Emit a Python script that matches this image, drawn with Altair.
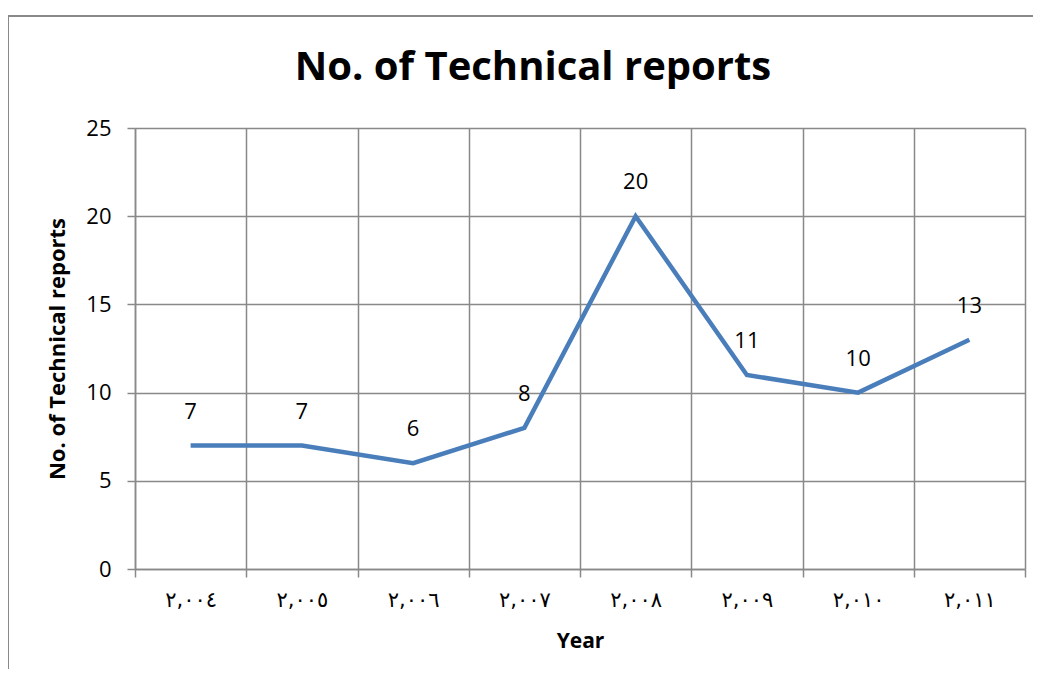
import altair as alt
import pandas as pd

years = ["٢,٠٠٤", "٢,٠٠٥", "٢,٠٠٦", "٢,٠٠٧", "٢,٠٠٨", "٢,٠٠٩", "٢,٠١٠", "٢,٠١١"]
reports = [7, 7, 6, 8, 20, 11, 10, 13]
title_text = "No. of Technical reports"

df = pd.DataFrame({"year": years, "reports": reports})

FONT = "Open Sans"
GRID = "#898989"

yscale = alt.Scale(domain=[0, 25], nice=False, zero=True)
xscale = alt.Scale(type="band", paddingInner=0, paddingOuter=0)

x = alt.X("year:N", sort=years, scale=xscale, bandPosition=0.5,
          axis=alt.Axis(title="Year", tickBand="extent", grid=True, gridColor=GRID, gridWidth=1.5,
                        domainColor=GRID, domainWidth=1.5, tickColor=GRID, tickWidth=1.5, tickSize=8,
                        labelAngle=0, labelFont="DejaVu Sans", labelFontSize=21, labelColor="black",
                        labelPadding=12, titleFont=FONT, titleFontSize=21, titleFontWeight="bold",
                        titleColor="black", titlePadding=20))
y = alt.Y("reports:Q", scale=yscale,
          axis=alt.Axis(title="No. of Technical reports", values=[0, 5, 10, 15, 20, 25], grid=True,
                        gridColor=GRID, gridWidth=1.5, domainColor=GRID, domainWidth=1.5,
                        tickColor=GRID, tickWidth=1.5, tickSize=8, labelFont=FONT, labelFontSize=22,
                        labelColor="black", labelPadding=16, titleFont=FONT, titleFontSize=22,
                        titleFontWeight="bold", titleColor="black", titlePadding=16))

line = alt.Chart(df).mark_line(color="#4a7ebb", strokeWidth=4.5).encode(x=x, y=y)
labels = alt.Chart(df).mark_text(font=FONT, fontSize=22, color="black", dy=-34).encode(
    x=alt.X("year:N", sort=years, scale=xscale, bandPosition=0.5),
    y=alt.Y("reports:Q", scale=yscale), text="reports:Q")

border_top = alt.Chart(df).mark_rule(color=GRID, strokeWidth=2, clip=False).encode(
    x=alt.value(-127), x2=alt.value(1000), y=alt.value(-112))
border_left = alt.Chart(df).mark_rule(color=GRID, strokeWidth=2, clip=False).encode(
    x=alt.value(-127), y=alt.value(-112), y2=alt.value(600))

title = alt.Chart(pd.DataFrame({"t": [title_text]})).mark_text(
    font=FONT, fontSize=40, fontWeight="bold", color="black", baseline="middle", align="center"
).encode(x=alt.value(398), y=alt.value(-60), text="t:N")

chart = alt.layer(border_top, border_left, line, labels, title).properties(
    width=890, height=441,
    autosize=alt.AutoSizeParams(type="none"),
    padding={"left": 127, "top": 120, "right": 8, "bottom": 100},
).configure_view(stroke=None)

chart.save("out.html", embed_options={"renderer": "svg", "actions": False})
